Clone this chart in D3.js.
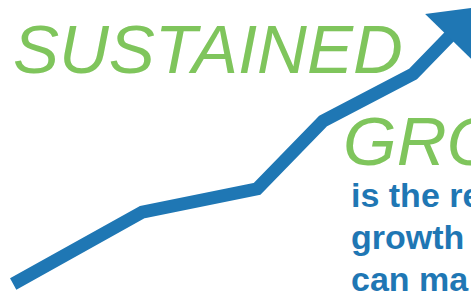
<!DOCTYPE html>
<html>
<head>
<meta charset="utf-8">
<script src="https://cdn.jsdelivr.net/npm/d3@7"></script>
<style>
  html, body { margin: 0; padding: 0; background: #fff; overflow: hidden; }
</style>
</head>
<body>
<div id="chart"></div>
<script>
// growth path, in percent of the frame
const stepX = [2.8, 30.2, 54.6, 68.6, 87.7, 101.5];
const stepY = [2.4, 27.1, 35.1, 58.4, 74.6, 97.6];
const titleWords = ["SUSTAINED", "GRO"];
const bodyLines = ["is the re", "growth", "can ma"];

const width = 471;
const height = 291;
const blue = "#1f77b4";
const green = "#7fc55c";

const x = d3.scaleLinear().domain([0, 100]).range([0, width]);
const y = d3.scaleLinear().domain([0, 100]).range([height, 0]);

const svg = d3.select("#chart")
    .append("svg")
    .attr("width", width)
    .attr("height", height);

const pts = stepX.map((d, i) => [x(d), y(stepY[i])]);

// arrow head sits on the last segment
const headLen = 42, headHalf = 33;
const tip = pts[pts.length - 1];
const prev = pts[pts.length - 2];
const len = Math.hypot(tip[0] - prev[0], tip[1] - prev[1]);
const ux = (tip[0] - prev[0]) / len, uy = (tip[1] - prev[1]) / len;
const back = [tip[0] - ux * headLen, tip[1] - uy * headLen];
const shaft = pts.slice(0, -1).concat([[back[0] + ux * 2, back[1] + uy * 2]]);

svg.append("path")
    .attr("d", d3.line()(shaft))
    .attr("fill", "none")
    .attr("stroke", blue)
    .attr("stroke-width", 13)
    .attr("stroke-linejoin", "miter")
    .attr("stroke-linecap", "butt");

svg.append("path")
    .attr("d", d3.line()([
        tip,
        [back[0] - uy * headHalf, back[1] + ux * headHalf],
        [back[0] + uy * headHalf, back[1] - ux * headHalf]
    ]) + "Z")
    .attr("fill", blue);

svg.append("text")
    .attr("x", 13)
    .attr("y", 73)
    .style("font", "italic 69px 'Liberation Sans', Arial, sans-serif")
    .attr("fill", green)
    .text(titleWords[0]);

svg.append("text")
    .attr("x", 343)
    .attr("y", 165)
    .style("font", "italic 69px 'Liberation Sans', Arial, sans-serif")
    .attr("fill", green)
    .text(titleWords[1]);

svg.append("text")
    .style("font", "bold 34px 'Liberation Sans', Arial, sans-serif")
    .attr("fill", blue)
    .selectAll("tspan")
    .data(bodyLines)
    .enter().append("tspan")
    .attr("x", 351)
    .attr("y", (d, i) => 207 + i * 42)
    .text(d => d);
</script>
</body>
</html>
